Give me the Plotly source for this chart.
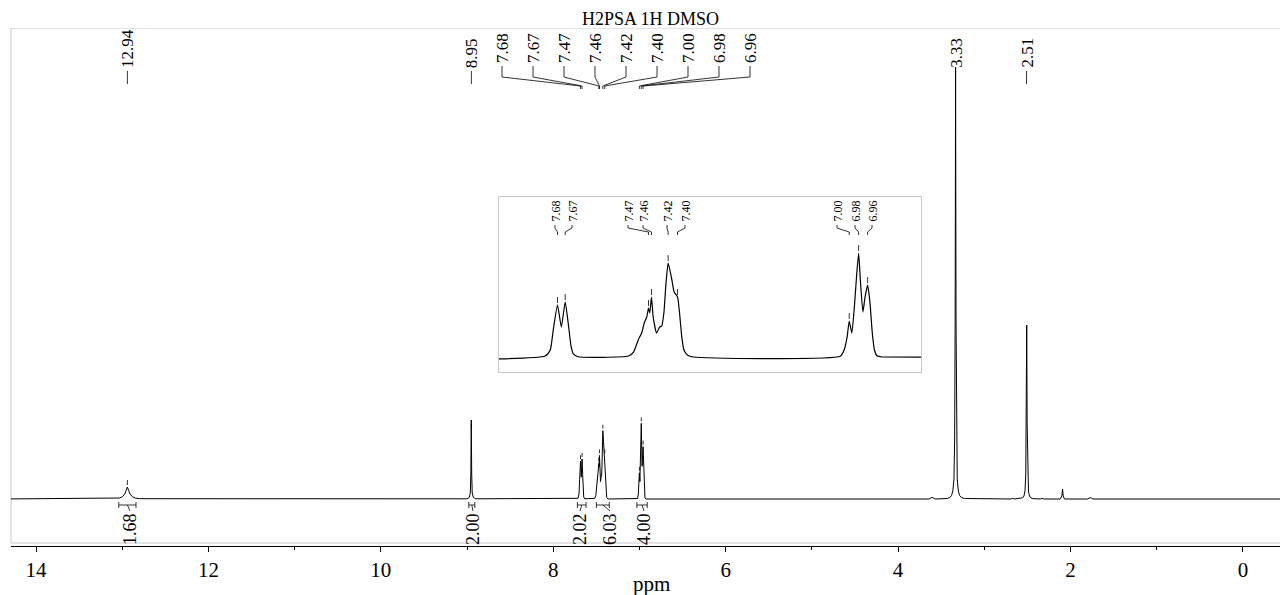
import numpy as np
import plotly.graph_objects as go

# ---------------- data ----------------
title_text = "H2PSA 1H DMSO"

# traced spectrum: chemical shift (ppm) and intensity (arbitrary units)
ppm = [14.40,
       13.08, 13.03, 13.00, 12.97, 12.955, 12.94, 12.925, 12.91, 12.88, 12.85, 12.80,
       9.00, 8.975, 8.962, 8.956, 8.951, 8.946, 8.940, 8.927, 8.90,
       7.713, 7.701, 7.694, 7.684, 7.675, 7.666, 7.659, 7.652, 7.647, 7.636,
       7.518, 7.506, 7.495, 7.487, 7.481, 7.475, 7.471, 7.468, 7.464, 7.460, 7.452, 7.445,
       7.440, 7.435, 7.430, 7.425, 7.417, 7.411, 7.403, 7.399, 7.393, 7.388, 7.380, 7.366,
       7.022, 7.013, 7.006, 7.001, 6.995, 6.989, 6.984, 6.979, 6.975, 6.969, 6.964, 6.958,
       6.953, 6.947, 6.942, 6.936, 6.924,
       3.64, 3.605, 3.57,
       3.43, 3.40, 3.38, 3.365, 3.352, 3.344, 3.338, 3.333, 3.328, 3.322, 3.314, 3.301, 3.286, 3.266, 3.23,
       2.69, 2.67, 2.65,
       2.58, 2.555, 2.54, 2.528, 2.519, 2.513, 2.508, 2.503, 2.497, 2.488, 2.476, 2.461, 2.436,
       2.35, 2.33, 2.31,
       2.12, 2.10, 2.092, 2.085, 2.07,
       1.80, 1.77, 1.74,
       -0.50]
intensity = [0.0,
             0.3, 1.0, 2.2, 5.0, 8.5, 12.0, 8.5, 5.0, 2.2, 1.0, 0.3,
             0.2, 1.5, 6.0, 25.0, 79.0, 25.0, 6.0, 1.5, 0.2,
             0.7, 5.1, 19.6, 37.8, 21.8, 40.0, 24.7, 7.3, 2.2, 0.2,
             0.7, 3.6, 12.4, 17.4, 24.7, 29.1, 35.6, 32.0, 43.6, 29.1, 17.4, 21.8,
             22.5, 32.0, 53.8, 68.3, 57.4, 47.3, 43.6, 34.2, 14.5, 5.1, 1.5, 0.0,
             0.5, 5.1, 14.5, 26.2, 17.4, 36.4, 58.2, 75.6, 56.0, 32.7, 43.6, 52.3,
             41.4, 17.4, 5.1, 0.9, 0.0,
             0.0, 1.7, 0.0,
             0.5, 1.5, 3.5, 8.0, 20.0, 60.0, 180.0, 432.0, 180.0, 60.0, 20.0, 8.0, 3.5, 1.5, 0.5,
             0.0, 0.7, 0.0,
             0.4, 1.2, 3.0, 8.0, 25.0, 75.0, 174.0, 75.0, 25.0, 8.0, 3.0, 1.2, 0.4,
             0.0, 0.7, 0.0,
             0.0, 3.0, 10.0, 3.0, 0.0,
             0.0, 1.5, 0.0,
             0.0]

single_labels = ["12.94", "8.95", "3.33", "2.51"]
single_label_ppm = [12.94, 8.95, 3.33, 2.51]

group_labels = ["7.68", "7.67", "7.47", "7.46", "7.42", "7.40", "7.00", "6.98", "6.96"]
group_peak_ppm = [7.684, 7.666, 7.471, 7.464, 7.425, 7.403, 7.001, 6.979, 6.958]

integral_values = ["1.68", "2.00", "2.02", "6.03", "4.00"]
integral_from = [13.04, 8.98, 7.72, 7.50, 7.03]
integral_to = [12.84, 8.91, 7.62, 7.35, 6.91]

x_tick_values = [0, 2, 4, 6, 8, 10, 12, 14]
x_title = "ppm"

# ---------------- layout geometry (pixels) ----------------
W, H = 1280, 595
ML, MR, MT, MB = 11, 0, 28, 49
PW, PH = W - ML - MR, H - MT - MB
BASE_PX = 499                     # baseline pixel row in the main view
AXIS_PX = H - MB
X0, X1 = 14.29, -0.43             # main x range (reversed)
YR = [-(AXIS_PX - BASE_PX), BASE_PX - MT]

FONT = "Liberation Serif, Times New Roman, serif"
GRAY = "#c8c8c8"


def vy(px):            # main y units from pixel row
    return BASE_PX - px


def ppm_at(px):        # main ppm from pixel column
    return X0 - (px - ML) * (X0 - X1) / PW


def paper_y(px):
    return (AXIS_PX - px) / PH


# inset geometry
IB = dict(x0=499, y0=197, x1=921, y1=372)
IX0, IX1 = 7.821, 6.833
IBASE = 357
ISCALE = 1.375


def iy(px):
    return (IBASE - px) / ISCALE


def ippm_at(px):
    return IX0 - (px - IB["x0"]) * (IX0 - IX1) / (IB["x1"] - IB["x0"])


ppm_asc = np.array(ppm[::-1])
int_asc = np.array(intensity[::-1])


def height_at(p):
    return float(np.interp(p, ppm_asc, int_asc))


fig = go.Figure()

# main spectrum
fig.add_trace(go.Scatter(x=ppm, y=intensity, mode="lines",
                         line=dict(color="black", width=1),
                         hoverinfo="skip", showlegend=False))

# inset spectrum
fig.add_trace(go.Scatter(x=ppm, y=intensity, mode="lines", xaxis="x2", yaxis="y2",
                         line=dict(color="black", width=1.2, shape="spline", smoothing=0.5),
                         hoverinfo="skip", showlegend=False))

annotations = []
lx, ly = [], []           # main-view line segments
ilx, ily = [], []         # inset line segments


def seg(xs, ys, inset=False):
    if inset:
        ilx.extend(list(xs) + [None])
        ily.extend(list(ys) + [None])
    else:
        lx.extend(list(xs) + [None])
        ly.extend(list(ys) + [None])


# single peak labels
for lab, p in zip(single_labels, single_label_ppm):
    annotations.append(dict(x=p, y=vy(69), xref="x", yref="y", text=lab, showarrow=False,
                            textangle=-90, xanchor="center", yanchor="bottom",
                            borderpad=0, font=dict(family=FONT, size=17, color="black")))
    if lab != "3.33":
        seg([p, p], [vy(71), vy(84)])
        h = height_at(p)
        seg([p, p], [h + 2, h + 7])

# grouped peak labels (fanned)
for k, (lab, p) in enumerate(zip(group_labels, group_peak_ppm)):
    lxp = ppm_at(502 + 31 * k)
    annotations.append(dict(x=lxp, y=vy(64), xref="x", yref="y", text=lab, showarrow=False,
                            textangle=-90, xanchor="center", yanchor="bottom",
                            borderpad=0, font=dict(family=FONT, size=17, color="black")))
    seg([lxp, lxp, p, p], [vy(66), vy(77), vy(86), vy(89)])
    h = height_at(p)
    seg([p, p], [h + 2, h + 6])

# inset labels
inset_label_px = [555, 572, 628, 643, 667, 685, 837, 855, 872]
for lab, p, lpx in zip(group_labels, group_peak_ppm, inset_label_px):
    lxp = ippm_at(lpx)
    annotations.append(dict(x=lxp, y=iy(223), xref="x2", yref="y2", text=lab, showarrow=False,
                            textangle=-90, xanchor="center", yanchor="bottom",
                            borderpad=0, font=dict(family=FONT, size=12, color="black")))
    seg([lxp, lxp, p, p], [iy(225), iy(228), iy(232), iy(235)], inset=True)
    h = height_at(p)
    seg([p, p], [h + 2 / ISCALE, h + 8 / ISCALE], inset=True)

# integrals
integral_label_px = [130, 473, 580, 610, 644]
for val, a, b, lpx in zip(integral_values, integral_from, integral_to, integral_label_px):
    seg([a, b], [vy(505), vy(505)])
    seg([a, a], [vy(502), vy(508)])
    seg([b, b], [vy(502), vy(508)])
    c = (a + b) / 2
    lxp = ppm_at(lpx)
    seg([c, lxp], [vy(505), vy(511)])
    annotations.append(dict(x=lxp, y=vy(512), xref="x", yref="y", text=val, showarrow=False,
                            textangle=-90, xanchor="center", yanchor="top",
                            borderpad=0, font=dict(family=FONT, size=18, color="black")))

fig.add_trace(go.Scatter(x=lx, y=ly, mode="lines", line=dict(color="black", width=0.8),
                         hoverinfo="skip", showlegend=False, connectgaps=False))
fig.add_trace(go.Scatter(x=ilx, y=ily, mode="lines", xaxis="x2", yaxis="y2",
                         line=dict(color="black", width=0.8),
                         hoverinfo="skip", showlegend=False, connectgaps=False))

# title and axis title
annotations.append(dict(x=(651 - ML) / PW, y=paper_y(19), xref="paper", yref="paper",
                        text=title_text, showarrow=False, xanchor="center", yanchor="middle",
                        font=dict(family=FONT, size=18, color="black")))
annotations.append(dict(x=(652 - ML) / PW, y=paper_y(584), xref="paper", yref="paper",
                        text=x_title, showarrow=False, xanchor="center", yanchor="middle",
                        font=dict(family=FONT, size=21, color="black")))

shapes = [dict(type="rect", xref="paper", yref="y", x0=0, x1=1.02, y0=vy(543), y1=vy(MT),
               line=dict(color=GRAY, width=1), fillcolor="rgba(0,0,0,0)", layer="below")]

fig.update_layout(
    width=W, height=H,
    margin=dict(l=ML, r=MR, t=MT, b=MB),
    paper_bgcolor="white", plot_bgcolor="white",
    showlegend=False,
    annotations=annotations,
    shapes=shapes,
    xaxis=dict(range=[X0, X1], autorange=False, tickvals=x_tick_values,
               ticks="outside", ticklen=5, tickwidth=1, tickcolor="black",
               showline=True, linecolor="black", linewidth=1.2,
               showgrid=False, zeroline=False,
               tickfont=dict(family=FONT, size=21, color="black"),
               minor=dict(dtick=1, tick0=0, ticks="outside", ticklen=3, tickcolor="black", showgrid=False)),
    yaxis=dict(range=YR, autorange=False, visible=False, showgrid=False, zeroline=False),
    xaxis2=dict(domain=[(IB["x0"] - ML) / PW, (IB["x1"] - ML) / PW], anchor="y2",
                range=[IX0, IX1], autorange=False, showline=True, mirror=True,
                linecolor=GRAY, linewidth=1, ticks="", showticklabels=False,
                showgrid=False, zeroline=False),
    yaxis2=dict(domain=[paper_y(IB["y1"]), paper_y(IB["y0"])], anchor="x2",
                range=[iy(IB["y1"]), iy(IB["y0"])], autorange=False, showline=True, mirror=True,
                linecolor=GRAY, linewidth=1, ticks="", showticklabels=False,
                showgrid=False, zeroline=False),
)

fig.write_html("out.html",
               config={"displayModeBar": False},
               post_script="document.body.style.margin='0px';document.body.style.padding='0px';")
